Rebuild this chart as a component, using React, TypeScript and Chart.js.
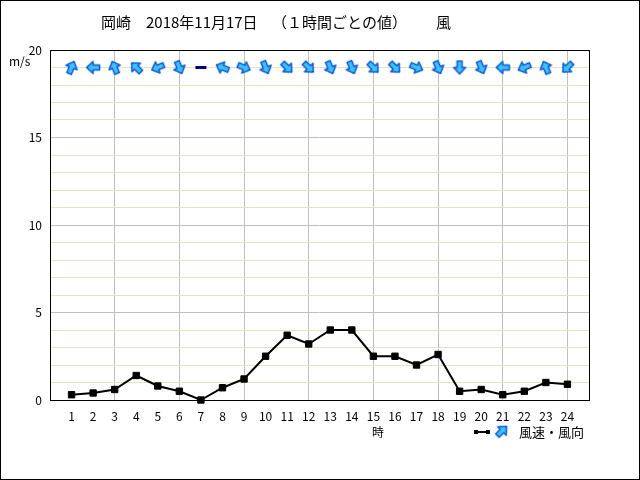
import React, { useEffect, useRef } from "react";
import { Chart, registerables } from "chart.js";

Chart.register(...registerables);

const titleParts = ["岡崎", "2018年11月17日", "（１時間ごとの値）", "風"];
const hours = [1, 2, 3, 4, 5, 6, 7, 8, 9, 10, 11, 12, 13, 14, 15, 16, 17, 18, 19, 20, 21, 22, 23, 24];
const windSpeed = [0.3, 0.4, 0.6, 1.4, 0.8, 0.5, 0.0, 0.7, 1.2, 2.5, 3.7, 3.2, 4.0, 4.0, 2.5, 2.5, 2.0, 2.6, 0.5, 0.6, 0.3, 0.5, 1.0, 0.9];
// wind direction (where the wind blows from); arrows point downwind
const windDir = [
  "南南西", "東", "南南東", "南東", "東北東", "北北西", "静穏", "東南東",
  "西北西", "北北西", "北西", "北西", "北北西", "北北西", "北西", "北西",
  "西北西", "北北西", "北", "北北西", "東", "東北東", "南南東", "北東",
];
const compass16 = ["北", "北北東", "北東", "東北東", "東", "東南東", "南東", "南南東", "南", "南南西", "南西", "西南西", "西", "西北西", "北西", "北北西"];
const yTickLabels = [0, 5, 10, 15, 20];
const arrowRowLevel = 19;
const yUnit = "m/s";
const xUnit = "時";
const legendText = "風速・風向";

const FONT = '"Noto Sans CJK JP", "Noto Sans", sans-serif';
const ARROW_FILL = "#40c0ff";
const ARROW_STROKE = "#0a5ad0";

function makeArrow(): HTMLCanvasElement {
  const c = document.createElement("canvas");
  c.width = 16;
  c.height = 16;
  const g = c.getContext("2d")!;
  g.beginPath();
  g.moveTo(8, 1.5);
  g.lineTo(14, 8);
  g.lineTo(10.5, 8);
  g.lineTo(10.5, 14.5);
  g.lineTo(5.5, 14.5);
  g.lineTo(5.5, 8);
  g.lineTo(2, 8);
  g.closePath();
  g.fillStyle = ARROW_FILL;
  g.fill();
  g.strokeStyle = ARROW_STROKE;
  g.lineWidth = 1.5;
  g.lineJoin = "round";
  g.stroke();
  return c;
}

function dirRotation(name: string): number {
  const idx = compass16.indexOf(name);
  if (idx < 0) return 0;
  return (idx * 22.5 + 180) % 360;
}

export default function App() {
  const ref = useRef<HTMLCanvasElement | null>(null);

  useEffect(() => {
    document.body.style.margin = "0";
    const canvas = ref.current;
    if (!canvas) return;
    const arrow = makeArrow();

    const overlay = {
      id: "overlay",
      beforeDatasetsDraw(chart: any) {
        const { ctx, chartArea: a } = chart;
        ctx.save();
        ctx.strokeStyle = "#000";
        ctx.lineWidth = 1;
        ctx.strokeRect(Math.round(a.left) + 0.5, Math.round(a.top) + 0.5, Math.round(a.right - a.left), Math.round(a.bottom - a.top));
        ctx.restore();
      },
      afterDraw(chart: any) {
        const { ctx, width, height } = chart;
        ctx.save();
        // outer frame
        ctx.strokeStyle = "#000";
        ctx.lineWidth = 1;
        ctx.strokeRect(0.5, 0.5, width - 1, height - 1);
        ctx.fillStyle = "#000";
        ctx.textBaseline = "middle";
        // title
        ctx.font = `15px ${FONT}`;
        ctx.textAlign = "left";
        const xs = [101, 146, 272, 436];
        titleParts.forEach((t, i) => ctx.fillText(t, xs[i], 22));
        // unit labels
        ctx.font = `12px ${FONT}`;
        ctx.fillText(yUnit, 9, 61);
        ctx.textAlign = "center";
        ctx.fillText(xUnit, 378, 432);
        // legend
        ctx.strokeStyle = "#000";
        ctx.lineWidth = 2;
        ctx.beginPath();
        ctx.moveTo(476, 432);
        ctx.lineTo(488, 432);
        ctx.stroke();
        ctx.fillRect(474, 430, 4, 4);
        ctx.fillRect(486, 430, 4, 4);
        ctx.save();
        ctx.translate(502, 431);
        ctx.rotate(Math.PI / 4);
        ctx.drawImage(arrow, -8, -8);
        ctx.restore();
        ctx.textAlign = "left";
        ctx.font = `13px ${FONT}`;
        ctx.fillText(legendText, 519, 432);
        ctx.restore();
      },
    };

    const chart = new Chart(canvas, {
      type: "line",
      data: {
        datasets: [
          {
            label: "風速",
            data: hours.map((h, i) => ({ x: h, y: windSpeed[i] })),
            borderColor: "#000",
            borderWidth: 2,
            pointStyle: "rect",
            pointRadius: 4.5,
            pointBackgroundColor: "#000",
            pointBorderColor: "#000",
            pointBorderWidth: 1,
            tension: 0,
            clip: false as any,
          },
          {
            label: "風向",
            data: hours.map((h) => ({ x: h, y: arrowRowLevel })),
            showLine: false,
            pointStyle: ((c: any) => (windDir[c.dataIndex] === "静穏" ? "line" : arrow)) as any,
            pointRotation: ((c: any) => dirRotation(windDir[c.dataIndex])) as any,
            pointRadius: 5.5,
            pointBorderColor: "#000080",
            pointBorderWidth: 3,
            clip: false as any,
          },
        ],
      },
      options: {
        animation: false,
        responsive: false,
        events: [],
        layout: { padding: { left: 0, top: 50, right: 51, bottom: 0 } },
        plugins: { legend: { display: false }, title: { display: false }, tooltip: { enabled: false } },
        scales: {
          x: {
            type: "linear",
            min: 0,
            max: 25,
            afterFit: (s: any) => {
              s.height = 80;
            },
            ticks: {
              stepSize: 1,
              autoSkip: false,
              maxRotation: 0,
              color: "#000",
              padding: 9,
              font: { family: FONT, size: 12 },
              callback: (v: any) => (hours.includes(v) ? String(v) : ""),
            },
            grid: {
              drawTicks: false,
              color: (c: any) => {
                const v = c.tick && c.tick.value;
                return v > 0 && v < 25 && v % 3 === 0 ? "#c0c0c0" : "rgba(0,0,0,0)";
              },
            },
            border: { display: false },
          },
          y: {
            type: "linear",
            min: 0,
            max: 20,
            afterFit: (s: any) => {
              s.width = 50;
            },
            ticks: {
              stepSize: 1,
              autoSkip: false,
              color: "#000",
              padding: 8,
              font: { family: FONT, size: 12 },
              callback: (v: any) => (yTickLabels.includes(v) ? String(v) : ""),
            },
            grid: {
              drawTicks: false,
              color: (c: any) => {
                const v = c.tick && c.tick.value;
                return v % 5 === 0 ? "#c0c0c0" : "#ece0c4";
              },
            },
            border: { display: false },
          },
        },
      },
      plugins: [overlay],
    });
    return () => chart.destroy();
  }, []);

  return (
    <div style={{ width: 640, height: 480 }}>
      <canvas ref={ref} width={640} height={480} style={{ display: "block" }} />
    </div>
  );
}
